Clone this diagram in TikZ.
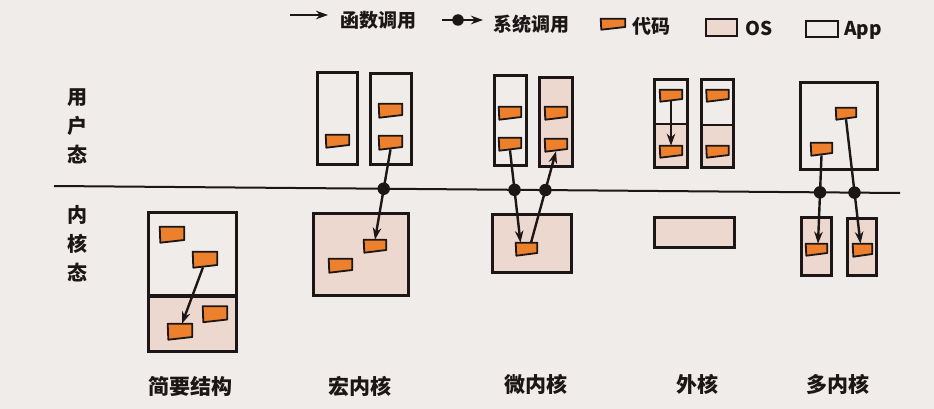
\documentclass[tikz,border=0pt]{standalone}
\usepackage{fontspec}
\setmainfont{Noto Sans CJK SC}
\usetikzlibrary{arrows.meta,calc}
\definecolor{bg}{RGB}{239,236,234}
\definecolor{osfill}{RGB}{237,216,207}
\definecolor{codefill}{RGB}{236,128,44}
\definecolor{ink}{RGB}{28,22,22}
\tikzset{
  box/.style={draw=ink, line width=3.3pt, inner sep=0pt},
  osbox/.style={box, fill=osfill},
  osarea/.style={fill=osfill, draw=none, inner sep=0pt},
  code/.style={inner sep=0pt, draw=none},
  codeshape/.style={draw=ink, line width=1.8pt, fill=codefill, line join=round},
  call/.style={draw=ink, line width=2.4pt, -{Stealth[length=12pt,width=8.5pt]}},
  sysdot/.style={circle, fill=ink, inner sep=0pt, minimum size=12.5pt},
  kline/.style={draw=ink, line width=2pt},
  divider/.style={draw=ink, line width=1.8pt},
  lbl/.style={font=\bfseries\fontsize{21}{21}\selectfont, text=ink},
  side/.style={font=\bfseries\fontsize{20}{29}\selectfont, align=center, text=ink},
  leg/.style={font=\bfseries\fontsize{19}{19}\selectfont, text=ink},
  legbox/.style={draw=ink, line width=2.3pt, inner sep=0pt},
}
% \codeblk{name}{x}{y}{w}{h}
\newcommand\codeblk[5]{%
  \node[code, minimum width=#4pt-1.8pt, minimum height=#5pt-1.8pt] (#1) at (#2,#3) {};
  \path[codeshape] (#1.north west) -- (#1.north east) -- ([yshift=2.3pt]#1.south east)
    -- ([xshift=0.6pt,yshift=-0.4pt]#1.south west) -- cycle;}
% \sysdot{dotname}{from}{to}
\newcommand\sysdot[3]{%
  \pgfcoordinate{#1p}{\pgfpointintersectionoflines{\pgfpointanchor{#2}{center}}{\pgfpointanchor{#3}{center}}{\pgfpointanchor{Lw}{center}}{\pgfpointanchor{Le}{center}}}%
  \node[sysdot] (#1) at (#1p) {};}
\begin{document}
\begin{tikzpicture}[x=1pt,y=-1pt]
\fill[bg] (0,0) rectangle (934,409);
\useasboundingbox (0,0) rectangle (934,409);

% ---------- legend ----------
\coordinate (la1) at (290,15);
\coordinate (la2) at (328,15);
\draw[call] (la1) -- (la2);
\node[leg] (lt1) at (378.5,20) {函数调用};
\coordinate (ls1) at (442,20);
\coordinate (ls2) at (483,20);
\draw[call] (ls1) -- (ls2);
\node[sysdot, minimum size=11.5pt] (ldot) at (458,20) {};
\node[leg] (lt2) at (531,24) {系统调用};
\codeblk{lcode}{613}{24}{26}{12}
\node[leg] (lt3) at (651,26) {代码};
\node[legbox, fill=osfill, minimum width=31pt, minimum height=17pt] (los) at (721.5,27.5) {};
\node[leg] (lt4) at (759.5,28) {OS};
\node[legbox, minimum width=32pt, minimum height=16pt] (lapp) at (822,29) {};
\node[leg] (lt5) at (863,30) {App};

% ---------- side labels and mode line ----------
\node[side] (ul) at (77,126) {用\\户\\态};
\node[side] (kl) at (77,244) {内\\核\\态};
\coordinate (Lw) at (54,186);
\coordinate (Le) at (900,193);
\draw[kline] (Lw) -- (Le);

% ---------- 简要结构 ----------
\node[box, minimum width=88pt, minimum height=83.5pt] (stop) at (192.5,254.2) {};
\node[osbox, minimum width=88pt, minimum height=55.5pt] (sbot) at (192.5,323.9) {};
\codeblk{s1}{172}{234.5}{26}{17}
\codeblk{s2}{205}{259.5}{26}{17}
\codeblk{s3}{215}{314}{26}{17}
\codeblk{s4}{180}{331.5}{26}{17}
\draw[call] ([xshift=-2pt]s2.south) -- ([xshift=2pt]s4.north);
\node[lbl] (t1) at (190,386) {简要结构};

% ---------- 宏内核 ----------
\node[box, minimum width=40pt, minimum height=92pt] (ma1) at (337.5,118.5) {};
\node[box, minimum width=41pt, minimum height=91pt] (ma2) at (391,119) {};
\node[osbox, minimum width=95pt, minimum height=82pt] (mos) at (361,254.5) {};
\codeblk{m1}{337.5}{141}{25}{14}
\codeblk{m2}{390.5}{110.5}{25}{15}
\codeblk{m3}{390.5}{142.5}{25}{15}
\codeblk{m4}{375}{246}{24}{14}
\codeblk{m5}{340.5}{265.5}{25}{15}
\coordinate (ma) at (m3.south);
\coordinate (mb) at (m4.north);
\draw[call] (ma) -- (mb);
\sysdot{d1}{ma}{mb}
\node[lbl] (t2) at (360,386) {宏内核};

% ---------- 微内核 ----------
\node[box, minimum width=32pt, minimum height=90pt] (ua1) at (510.5,120.5) {};
\node[osbox, minimum width=33pt, minimum height=89pt] (ua2) at (556,122) {};
\node[osbox, minimum width=79pt, minimum height=58pt] (uos) at (532,243.5) {};
\codeblk{u1}{510}{113}{24}{14}
\codeblk{u2}{510}{144}{24}{14}
\codeblk{u3}{556}{113}{24}{14}
\codeblk{u4}{556}{145}{24}{14}
\codeblk{uk}{526.5}{249}{23}{14}
\coordinate (ua) at (u2.south);
\coordinate (ub) at ([xshift=-6pt]uk.north);
\coordinate (uc) at ([xshift=4.5pt]uk.north);
\coordinate (ud) at (u4.south);
\draw[call] (ua) -- (ub);
\draw[call] (uc) -- (ud);
\sysdot{d2}{ua}{ub}
\sysdot{d3}{uc}{ud}
\node[lbl] (t3) at (536,384) {微内核};

% ---------- 外核 ----------
\node[osarea, minimum width=33pt, minimum height=43.5pt] (e1l) at (671,145.9) {};
\node[osarea, minimum width=32pt, minimum height=42.5pt] (e2l) at (717.5,146.4) {};
\node[box, minimum width=33pt, minimum height=88pt] (ea1) at (671,123.5) {};
\node[box, minimum width=32pt, minimum height=88pt] (ea2) at (717.5,123.5) {};
\coordinate (ed1) at (671,124);
\coordinate (ed2) at (717.5,125);
\draw[divider] (ea1.west |- ed1) -- (ea1.east |- ed1);
\draw[divider] (ea2.west |- ed2) -- (ea2.east |- ed2);
\node[osbox, minimum width=80pt, minimum height=30pt] (eos) at (694.5,232.5) {};
\codeblk{e1}{671}{95.5}{24}{13}
\codeblk{e2}{671}{151.5}{24}{13}
\codeblk{e3}{717.5}{95.5}{24}{13}
\codeblk{e4}{717.5}{151.5}{24}{13}
\draw[call] (e1.south) -- (e2.north);
\node[lbl] (t4) at (697,384) {外核};

% ---------- 多内核 ----------
\node[box, minimum width=77pt, minimum height=87pt] (pa) at (839,126) {};
\node[osbox, minimum width=30pt, minimum height=58pt] (q1) at (816.5,246.5) {};
\node[osbox, minimum width=29pt, minimum height=57pt] (q2) at (862,247) {};
\codeblk{p1}{846}{113.5}{22}{13}
\codeblk{p2}{821.5}{149}{23}{14}
\codeblk{q1c}{816.5}{249.5}{23}{13}
\codeblk{q2c}{862.5}{250}{21}{14}
\coordinate (pa1) at (p2.south);
\coordinate (pb1) at ([xshift=1.5pt]q1c.north);
\coordinate (pa2) at (p1.south);
\coordinate (pb2) at ([xshift=-2pt]q2c.north);
\draw[call] (pa1) -- (pb1);
\draw[call] (pa2) -- (pb2);
\sysdot{d4}{pa1}{pb1}
\sysdot{d5}{pa2}{pb2}
\node[lbl] (t5) at (837.5,384) {多内核};
\end{tikzpicture}
\end{document}
